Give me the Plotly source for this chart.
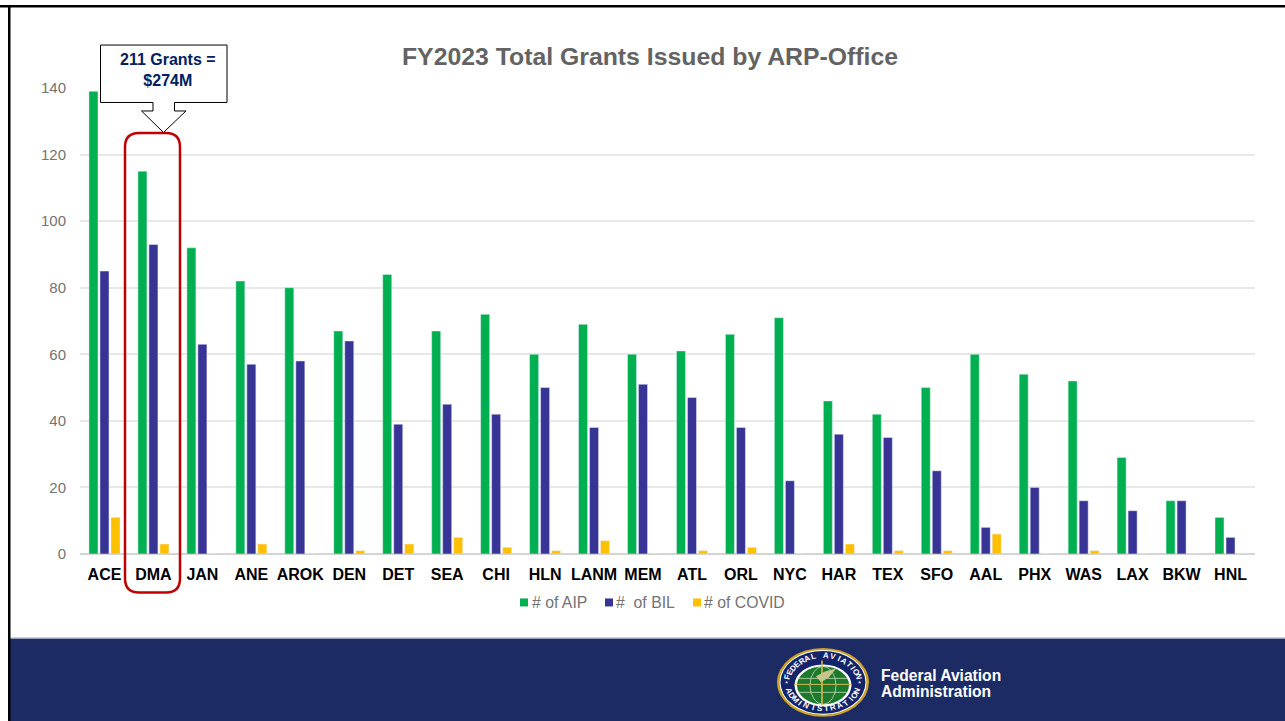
import math
import plotly.graph_objects as go

offices = ["ACE", "DMA", "JAN", "ANE", "AROK", "DEN", "DET", "SEA", "CHI", "HLN", "LANM", "MEM",
           "ATL", "ORL", "NYC", "HAR", "TEX", "SFO", "AAL", "PHX", "WAS", "LAX", "BKW", "HNL"]
aip = [139, 115, 92, 82, 80, 67, 84, 67, 72, 60, 69, 60, 61, 66, 71, 46, 42, 50, 60, 54, 52, 29, 16, 11]
bil = [85, 93, 63, 57, 58, 64, 39, 45, 42, 50, 38, 51, 47, 38, 22, 36, 35, 25, 8, 20, 16, 13, 16, 5]
covid = [11, 3, 0, 3, 0, 1, 3, 5, 2, 1, 4, 0, 1, 2, 0, 3, 1, 1, 6, 0, 1, 0, 0, 0]

GREEN = "#00b050"
BLUE = "#373496"
YELLOW = "#ffc000"
NAVY = "#1c2b64"
GREY = "#737373"
FONT = "Liberation Sans"

# plot area in page pixels
LEFT, RIGHT, TOP, BOTTOM = 80, 1255, 88, 554.5


# page pixels to paper coordinates, for the decoration around the chart
def px_x(x):
    return (x - LEFT) / (RIGHT - LEFT)


def px_y(y):
    return (BOTTOM - y) / (BOTTOM - TOP)


def path(points):
    return "M " + " L ".join(f"{px_x(x):.5f},{px_y(y):.5f}" for x, y in points) + " Z"


def rect(x0, y0, x1, y1, fill, line=None, width=0):
    return dict(type="rect", xref="paper", yref="paper", x0=px_x(x0), x1=px_x(x1), y0=px_y(y0), y1=px_y(y1),
                fillcolor=fill, line=dict(color=line, width=width), layer="above")


def oval(cx, cy, rx, ry, fill, line=None, width=0):
    return dict(type="circle", xref="paper", yref="paper", x0=px_x(cx - rx), x1=px_x(cx + rx),
                y0=px_y(cy + ry), y1=px_y(cy - ry), fillcolor=fill,
                line=dict(color=line, width=width), layer="above")


def seg(x0, y0, x1, y1, color, width=1):
    return dict(type="line", xref="paper", yref="paper", x0=px_x(x0), x1=px_x(x1), y0=px_y(y0), y1=px_y(y1),
                line=dict(color=color, width=width), layer="above")


def label(x, y, text, size, color, anchor="center", angle=0):
    return dict(xref="paper", yref="paper", x=px_x(x), y=px_y(y), text=text, showarrow=False,
                xanchor=anchor, yanchor="middle", textangle=angle, align="center",
                font=dict(family=FONT, size=size, color=color))


fig = go.Figure()
fig.add_trace(go.Bar(x=offices, y=aip, name="# of AIP", marker_color=GREEN))
fig.add_trace(go.Bar(x=offices, y=bil, name="#  of BIL", marker_color=BLUE))
fig.add_trace(go.Bar(x=offices, y=covid, name="# of COVID", marker_color=YELLOW))

shapes = []
annotations = []

# slide frame and footer
shapes.append(rect(10, 639, 1285, 724, NAVY))
shapes.append(seg(10, 638.5, 1285, 638.5, "#aab4c8", 1))
shapes.append(rect(0, 5, 1285, 7.5, "#000000"))
shapes.append(rect(8, 5, 10.5, 724, "#000000"))

# DMA highlight
x0, x1, y0, y1, r = 125, 180, 133, 593, 14
shapes.append(dict(type="path", xref="paper", yref="paper", layer="above",
                   path=(f"M {px_x(x0 + r)},{px_y(y0)} L {px_x(x1 - r)},{px_y(y0)} "
                         f"Q {px_x(x1)},{px_y(y0)} {px_x(x1)},{px_y(y0 + r)} "
                         f"L {px_x(x1)},{px_y(y1 - r)} Q {px_x(x1)},{px_y(y1)} {px_x(x1 - r)},{px_y(y1)} "
                         f"L {px_x(x0 + r)},{px_y(y1)} Q {px_x(x0)},{px_y(y1)} {px_x(x0)},{px_y(y1 - r)} "
                         f"L {px_x(x0)},{px_y(y0 + r)} Q {px_x(x0)},{px_y(y0)} {px_x(x0 + r)},{px_y(y0)} Z"),
                   line=dict(color="#c00000", width=2.5)))

# callout
shapes.append(dict(type="path", xref="paper", yref="paper", layer="above", fillcolor="#ffffff",
                   path=path([(100.5, 45), (227, 45), (227, 102.5), (174.5, 102.5), (174.5, 111), (186, 111),
                              (163.5, 132.5), (141.5, 111), (153, 111), (153, 102.5), (100.5, 102.5)]),
                   line=dict(color="#000000", width=1)))
annotations.append(label(167.5, 70, "<b>211 Grants =<br>$274M</b>", 16, "#002060"))

# legend
legend_items = [(520, 530, GREEN, "# of AIP"), (605, 614, BLUE, "#\u00a0\u00a0of BIL"), (693, 702, YELLOW, "# of COVID")]
for sx, tx, color, name in legend_items:
    shapes.append(rect(sx, 599, sx + 8, 607, color))
    annotations.append(label(tx, 603, name, 15.8, GREY, anchor="left"))

# footer text
annotations.append(label(879, 676.5, "<b>Federal Aviation</b>", 15.6, "#ffffff", anchor="left"))
annotations.append(label(879, 692.5, "<b>Administration</b>", 15.6, "#ffffff", anchor="left"))

# FAA seal
cx, cy = 823, 683
gy = cy + 3
shapes.append(oval(cx, cy, 46, 34.5, "#c9a227"))
shapes.append(oval(cx, cy, 43.5, 32.5, "#ffffff"))
shapes.append(oval(cx, cy, 42.5, 31.5, "#14246a"))
shapes.append(oval(cx, gy, 28.5, 21, "#ffffff"))
shapes.append(oval(cx, gy, 26, 19, "#1b7a2c"))
shapes.append(oval(cx, gy, 13, 19, "rgba(0,0,0,0)", "#dfe8d0", 0.7))
shapes.append(seg(cx - 25, gy - 7, cx + 25, gy - 7, "#dfe8d0", 0.7))
shapes.append(seg(cx - 25, gy + 7, cx + 25, gy + 7, "#dfe8d0", 0.7))
shapes.append(seg(cx - 29, gy - 1, cx + 29, gy - 1, "#d9b84a", 1))
shapes.append(seg(cx - 1, cy - 22, cx - 1, cy + 23, "#d9b84a", 1.6))
shapes.append(dict(type="path", xref="paper", yref="paper", layer="above", fillcolor="#c9c48a",
                   path=path([(cx - 2, gy - 3), (cx - 7, gy - 9), (cx + 2, gy - 14), (cx + 13, gy - 17), (cx + 6, gy - 8)]),
                   line=dict(width=0)))

top_text = "FEDERAL AVIATION"
for i, ch in enumerate(top_text):
    a = 168 - i * (168 - 12) / (len(top_text) - 1)
    annotations.append(label(cx + 36 * math.cos(math.radians(a)), cy - 26.5 * math.sin(math.radians(a)),
                             f"<b>{ch}</b>", 8, "#ffffff", angle=90 - a))
bottom_text = "ADMINISTRATION"
for i, ch in enumerate(bottom_text):
    a = 198 + i * (342 - 198) / (len(bottom_text) - 1)
    annotations.append(label(cx + 36 * math.cos(math.radians(a)), cy - 26.5 * math.sin(math.radians(a)),
                             f"<b>{ch}</b>", 8, "#ffffff", angle=270 - a))
annotations.append(label(cx - 36.5, cy + 1, "*", 8, "#ffffff"))
annotations.append(label(cx + 36.5, cy + 1, "*", 8, "#ffffff"))

fig.update_layout(
    width=1285, height=721, autosize=False,
    margin=dict(l=LEFT, r=1285 - RIGHT, t=TOP, b=721 - BOTTOM, pad=0),
    paper_bgcolor="#ffffff", plot_bgcolor="#ffffff",
    barmode="group", bargap=0.326, bargroupgap=0.18,
    showlegend=False,
    font=dict(family=FONT),
    title=dict(text="<b>FY2023 Total Grants Issued by ARP-Office</b>", x=650 / 1285, xanchor="center",
               y=1 - 56 / 721, yanchor="middle", font=dict(family=FONT, size=24.8, color="#636363")),
    shapes=shapes, annotations=annotations,
)
fig.update_xaxes(type="category", showgrid=False, showline=False, ticks="", ticklabelstandoff=9,
                 tickangle=0, tickfont=dict(family=FONT, size=16, color="#000000", weight="bold"))
fig.update_yaxes(range=[0, 140], dtick=20, gridcolor="#e8e8e8", gridwidth=1.5, zeroline=True,
                 zerolinecolor="#d4d4d4", zerolinewidth=1.5, showline=False, ticks="", ticklabelstandoff=13,
                 tickfont=dict(family=FONT, size=15, color=GREY))

fig.write_html("out.html", config=dict(displayModeBar=False),
               post_script="document.body.style.margin='0';document.body.style.overflow='hidden';")
